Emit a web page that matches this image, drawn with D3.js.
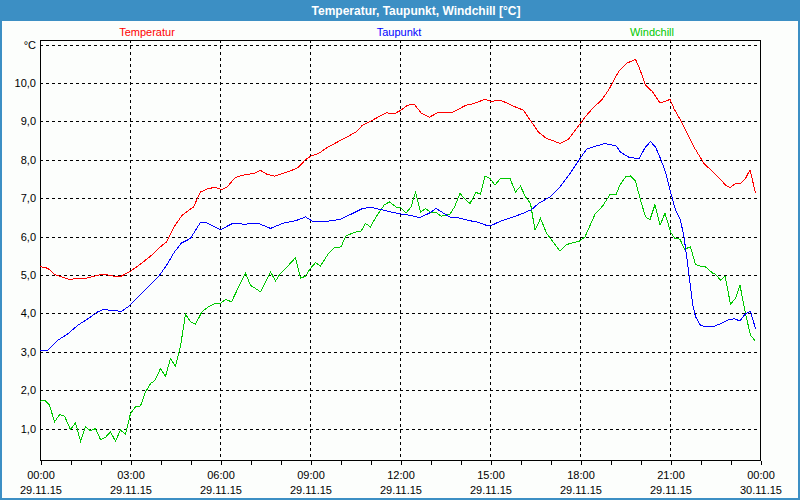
<!DOCTYPE html>
<html>
<head>
<meta charset="utf-8">
<script src="https://cdn.jsdelivr.net/npm/d3@7"></script>
<style>
html,body{margin:0;padding:0;background:#fff;}
svg{display:block;}
text{font-family:"Liberation Sans",Arial,sans-serif;}
</style>
</head>
<body>
<svg id="chart" width="800" height="500"></svg>
<script>
// ---- data (minutes since 00:00 on 29.11.15, values in °C) ----
const chartTitle = "Temperatur, Taupunkt, Windchill [°C]";
const seriesNames = ["Temperatur", "Taupunkt", "Windchill"];
const seriesColors = ["#ff0000", "#0000ff", "#00c800"];

const tempTimes = [0,16,29,56,89,109,126,146,163,179,196,223,239,253,268,284,307,321,337,351,363,374,391,407,427,441,454,469,484,501,516,531,541,557,576,605,632,645,665,692,709,722,735,749,762,779,795,822,839,852,864,890,903,920,933,953,967,983,997,1013,1027,1040,1057,1073,1090,1107,1123,1137,1152,1158,1173,1191,1198,1211,1225,1240,1248,1260,1268,1285,1308,1328,1355,1371,1380,1391,1401,1411,1420,1431];
const tempValues = [5.22,5.17,5.01,4.89,4.90,4.97,5.02,4.97,4.97,5.08,5.23,5.51,5.71,5.86,6.25,6.55,6.77,7.16,7.25,7.28,7.22,7.29,7.54,7.60,7.64,7.72,7.62,7.57,7.64,7.71,7.79,8.00,8.09,8.16,8.33,8.53,8.72,8.90,9.03,9.22,9.20,9.29,9.42,9.44,9.22,9.11,9.22,9.22,9.33,9.42,9.45,9.57,9.52,9.55,9.48,9.36,9.29,8.98,8.72,8.55,8.49,8.42,8.53,8.81,9.11,9.36,9.55,9.81,10.17,10.31,10.51,10.61,10.42,9.94,9.77,9.48,9.51,9.57,9.33,8.94,8.33,7.90,7.57,7.34,7.27,7.38,7.38,7.51,7.74,7.13];

const dewTimes = [0,16,36,56,76,96,116,126,139,163,176,196,223,239,253,269,283,301,311,321,334,361,387,407,437,461,487,511,531,547,576,599,622,645,662,689,715,742,759,779,792,819,839,864,877,893,903,923,947,967,983,997,1020,1040,1060,1080,1093,1110,1130,1152,1161,1178,1198,1211,1221,1231,1241,1251,1261,1271,1281,1288,1296,1305,1311,1321,1331,1348,1361,1375,1388,1400,1411,1421,1431];
const dewValues = [3.02,3.04,3.30,3.47,3.69,3.86,4.04,4.10,4.08,4.05,4.17,4.43,4.78,4.99,5.25,5.60,5.83,5.95,6.16,6.37,6.35,6.18,6.35,6.32,6.34,6.21,6.35,6.41,6.51,6.38,6.40,6.44,6.58,6.73,6.76,6.68,6.60,6.55,6.49,6.61,6.73,6.51,6.48,6.40,6.37,6.29,6.29,6.41,6.51,6.61,6.70,6.86,7.03,7.29,7.64,8.03,8.27,8.35,8.42,8.36,8.20,8.06,8.03,8.33,8.47,8.33,8.03,7.68,7.16,6.69,6.42,5.99,5.21,4.26,3.91,3.69,3.65,3.66,3.73,3.82,3.86,3.80,3.99,4.05,3.60];

const chillTimes = [0,9,19,29,39,49,61,71,81,91,101,111,121,131,141,151,161,171,181,191,201,211,221,229,241,251,261,271,281,291,301,311,324,337,351,361,371,383,396,411,421,441,461,471,481,497,511,521,531,541,551,561,576,589,602,612,632,642,651,661,672,689,699,712,722,732,742,751,761,771,781,792,802,820,829,840,851,860,872,881,890,900,910,921,940,951,961,971,981,990,1001,1013,1040,1053,1067,1079,1090,1110,1125,1140,1152,1160,1171,1181,1191,1201,1211,1220,1230,1240,1250,1261,1269,1280,1289,1301,1311,1325,1331,1345,1351,1361,1370,1381,1391,1400,1411,1421,1431];
const chillValues = [1.71,1.74,1.61,1.17,1.36,1.32,0.97,1.15,0.67,1.04,0.94,1.00,0.71,0.77,0.91,0.67,0.96,0.85,1.39,1.56,1.59,1.95,2.17,2.24,2.56,2.36,2.82,2.62,3.14,3.98,3.78,3.72,4.04,4.17,4.26,4.26,4.36,4.30,4.65,5.04,4.73,4.56,5.08,4.84,5.04,5.25,5.45,4.91,4.97,5.17,5.32,5.23,5.54,5.71,5.73,6.02,6.12,6.14,6.34,6.25,6.51,6.83,6.90,6.77,6.75,6.61,6.77,7.15,6.63,6.73,6.63,6.63,6.53,6.58,6.77,7.12,6.96,6.86,7.15,7.10,7.58,7.51,7.34,7.51,7.51,7.16,7.31,7.03,6.86,6.16,6.47,6.09,5.62,5.79,5.84,5.88,5.99,6.58,6.79,7.09,7.09,7.34,7.55,7.58,7.44,6.95,6.51,6.44,6.83,6.29,6.61,6.12,5.96,5.93,5.67,5.73,5.27,5.21,5.21,5.05,5.02,4.86,4.97,4.24,4.39,4.73,3.99,3.43,3.27];

const yTicks = [1,2,3,4,5,6,7,8,9,10];
const yTopLabel = "°C";
const xTickMinutes = [0,180,360,540,720,900,1080,1260,1440];
const xTickTimes = ["00:00","03:00","06:00","09:00","12:00","15:00","18:00","21:00","00:00"];
const xTickDates = ["29.11.15","29.11.15","29.11.15","29.11.15","29.11.15","29.11.15","29.11.15","29.11.15","30.11.15"];

// ---- drawing ----
const svg = d3.select("#chart");
const L = 40, R = 760, T = 40, B = 460;
const x = d3.scaleLinear().domain([0, 1440]).range([L, R]);
const y = d3.scaleLinear().domain([1, 11]).range([428.5, 44.5]);

// window background + border
svg.append("rect").attr("x",0).attr("y",0).attr("width",800).attr("height",500).attr("fill","#3c8fc4");
svg.append("rect").attr("x",2).attr("y",21).attr("width",796).attr("height",477).attr("fill","#fcfefc");
svg.append("text").attr("x",416).attr("y",15).attr("text-anchor","middle")
  .attr("fill","#ffffff").attr("font-weight","bold").attr("font-size","12px").text(chartTitle);

// grid
const g = svg.append("g").attr("shape-rendering","crispEdges");
const allY = yTicks.concat([11]);
g.selectAll("line.hg").data(allY).enter().append("line")
  .attr("x1",L).attr("x2",R).attr("y1",d=>Math.round(y(d))+0.5).attr("y2",d=>Math.round(y(d))+0.5)
  .attr("stroke","#000").attr("stroke-dasharray","3,3");
g.selectAll("line.vg").data(xTickMinutes.slice(1,-1)).enter().append("line")
  .attr("x1",d=>Math.round(x(d))+0.5).attr("x2",d=>Math.round(x(d))+0.5).attr("y1",T).attr("y2",B)
  .attr("stroke","#000").attr("stroke-dasharray","3,3");

// series lines
const line = d3.line().x(d=>x(d[0])).y(d=>y(d[1]));
const series = [
  d3.zip(tempTimes, tempValues),
  d3.zip(dewTimes, dewValues),
  d3.zip(chillTimes, chillValues)
];
[2,1,0].forEach(i=>{
  svg.append("path").datum(series[i]).attr("d",line)
    .attr("fill","none").attr("stroke",seriesColors[i]).attr("stroke-width",1)
    .attr("shape-rendering","crispEdges");
});

// frame
g.append("rect").attr("x",L+0.5).attr("y",T+0.5).attr("width",R-L).attr("height",B-T)
  .attr("fill","none").attr("stroke","#000");

// x axis ticks (hourly) and labels
const xAxis = d3.axisBottom(x).tickValues(d3.range(0,1441,60)).tickSize(4).tickFormat("");
const xa = svg.append("g").attr("transform",`translate(0.5,${B+0.5})`).call(xAxis);
xa.select(".domain").remove();
xa.selectAll("line").attr("stroke","#000").attr("shape-rendering","crispEdges");
const xl = svg.append("g");
xl.selectAll("text.t").data(xTickMinutes).enter().append("text")
  .attr("x",d=>x(d)+1).attr("y",479).attr("text-anchor","middle").attr("font-size","11px").attr("fill","#000")
  .text((d,i)=>xTickTimes[i]);
xl.selectAll("text.d").data(xTickMinutes).enter().append("text")
  .attr("x",d=>x(d)+1).attr("y",494).attr("text-anchor","middle").attr("font-size","11px").attr("fill","#000")
  .text((d,i)=>xTickDates[i]);

// y labels
const yl = svg.append("g");
yl.selectAll("text").data(yTicks).enter().append("text")
  .attr("x",36).attr("y",d=>y(d)+4).attr("text-anchor","end").attr("font-size","11px").attr("fill","#000")
  .text(d=>d3.format(".1f")(d).replace(".",","));
yl.append("text").attr("x",36).attr("y",y(11)+4).attr("text-anchor","end").attr("font-size","11px").attr("fill","#000").text(yTopLabel);

// legend
const legendX = [147, 399, 652];
svg.selectAll("text.leg").data(seriesNames).enter().append("text")
  .attr("x",(d,i)=>legendX[i]).attr("y",36).attr("text-anchor","middle").attr("font-size","11px")
  .attr("fill",(d,i)=>seriesColors[i]).text(d=>d);
</script>
</body>
</html>
